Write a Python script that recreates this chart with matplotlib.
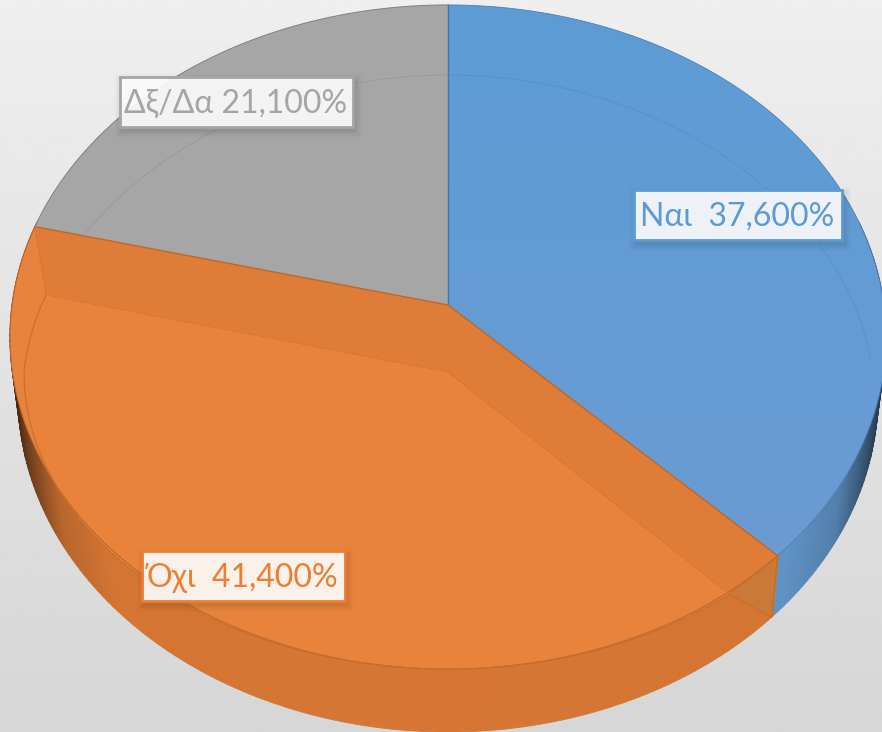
"""3D pie chart with the orange slice sunk into the disc."""

import matplotlib
matplotlib.use('Agg')
import matplotlib.pyplot as plt
from matplotlib.patches import Rectangle
import numpy as np

plt.rcParams['font.family'] = ['Lato', 'Noto Sans', 'DejaVu Sans']

# Data
labels = ['Ναι ', 'Όχι ', 'Δξ/Δα']
values = [37.6, 41.4, 21.1]
colors = ['#5b9bd5', '#ed7d31', '#a5a5a5']

W, H = 882, 732


def rim(theta):
    """Top rim of the disc, theta clockwise from 12 o'clock, with perspective."""
    t = np.radians(theta)
    d = 1 + 0.0964 * np.cos(t)
    return 448 + 436 * np.sin(t) / d, 305 - 329 * np.cos(t) / d


def base(theta):
    """Lower edge of the disc side."""
    t = np.radians(theta)
    d = 1 + 0.0964 * np.cos(t)
    return 448 + 428 * np.sin(t) / d, 363.5 - 333 * np.cos(t) / d


def ring(theta):
    """Inner floor ring of the disc, narrower towards the back."""
    t = np.radians(theta)
    c = np.cos(t)
    return 448 + 424 * np.sin(t) * (1 - 0.07 * np.maximum(c, 0)), 372 - 297 * c


def side_shade(theta):
    s = np.abs(np.sin(np.radians(theta)))
    return np.interp(s, [0, 0.72, 0.85, 0.93, 1], [0.91, 0.9, 0.78, 0.5, 0.28])


def arc(func, a, b, n=160):
    return func(np.linspace(a, b, n))


fig = plt.figure(figsize=(W / 100, H / 100), dpi=100)
ax = fig.add_axes([0, 0, 1, 1])
ax.set_xlim(0, W)
ax.set_ylim(H, 0)
ax.axis('off')

# Background gradient
grad = np.linspace(0.935, 0.84, 256).reshape(-1, 1)
ax.imshow(grad, extent=(0, W, H, 0), cmap='gray', vmin=0, vmax=1, aspect='auto', zorder=0)

total = sum(values)
edges = np.cumsum([0] + values) / total * 360
blue_a, blue_b = edges[0], edges[1]
or_a, or_b = edges[1], edges[2]
gray_a, gray_b = edges[2], edges[3]

# Side of the disc, drawn as thin strips so the shading can vary
side_angles = np.arange(75, 286, 1.0)
for a0, a1 in zip(side_angles[:-1], side_angles[1:]):
    mid = (a0 + a1) / 2
    rgb = np.array(matplotlib.colors.to_rgb('#6aa3dc' if mid < blue_b else '#ec8239'))
    c = tuple(rgb * side_shade(mid))
    x0, y0 = rim(a0)
    x1, y1 = rim(a1)
    x2, y2 = base(a1)
    x3, y3 = base(a0)
    ax.fill([x0, x1, x2, x3], [y0, y1, y2, y3], color=c, linewidth=0.6, zorder=1)

apex = rim(0)[0], 305
floor_apex = 448, 372
floor_a = or_a + 3.2  # floor corners sit slightly off the rim corners
floor_b = or_b + 0.9

# Top faces
xs, ys = arc(rim, gray_a, gray_b)
ax.fill(np.r_[apex[0], xs], np.r_[apex[1], ys], facecolor='#a6a6a6', edgecolor='none', zorder=2)
ax.plot(xs, ys, color='#808080', linewidth=0.7, zorder=2)

xs, ys = arc(rim, blue_a, blue_b)
blue_face = ax.fill(np.r_[apex[0], xs], np.r_[apex[1], ys], facecolor='none', edgecolor='none', zorder=2)[0]
blue_grad = np.linspace(0, 1, 64).reshape(-1, 1)
blue_cmap = matplotlib.colors.LinearSegmentedColormap.from_list('face', ['#5e9bd6', '#6a9bd2'])
blue_img = ax.imshow(blue_grad, extent=(448, W + 10, 560, 0), cmap=blue_cmap, aspect='auto', zorder=2)
blue_img.set_clip_path(blue_face)
ax.set_xlim(0, W)
ax.set_ylim(H, 0)
ax.plot(xs, ys, color='#4a7fb5', linewidth=0.6, zorder=2)
ax.plot([apex[0], apex[0]], [rim(0)[1], apex[1]], color='#3f77ad', linewidth=1.0, zorder=6)

# Orange slice: band, floor and the two inner walls
xs, ys = arc(rim, or_a, or_b)
ax.fill(np.r_[apex[0], xs], np.r_[apex[1], ys], facecolor='#e8833d', edgecolor='none', zorder=3)
ax.plot(xs, ys, color='#b9682c', linewidth=0.8, zorder=6)

fx, fy = arc(ring, floor_a, floor_b)
ax.fill(np.r_[floor_apex[0], fx], np.r_[floor_apex[1], fy], facecolor='#e9833c', edgecolor='none', zorder=4)
ax.plot(fx, fy, color='#c96d2b', linewidth=0.8, zorder=6)

r1, r2 = rim(or_a), rim(or_b)
b1 = base(or_a)
f1, f2 = ring(floor_a), ring(floor_b)
wall = '#df7d38'
ax.fill([apex[0], r1[0], f1[0], floor_apex[0]], [apex[1], r1[1], f1[1], floor_apex[1]],
        facecolor=wall, edgecolor='none', zorder=5)
ax.fill([apex[0], r2[0], f2[0], floor_apex[0]], [apex[1], r2[1], f2[1], floor_apex[1]],
        facecolor=wall, edgecolor='none', zorder=5)
ax.fill([r1[0], b1[0], f1[0]], [r1[1], b1[1], f1[1]], facecolor='#c97a38', edgecolor='none', zorder=5)

# Slice boundaries and wall creases
ax.plot([r2[0], apex[0], r1[0]], [r2[1], apex[1], r1[1]], color='#b9692d', linewidth=1.0, zorder=6)
ax.plot([r1[0], f1[0], b1[0]], [r1[1], f1[1], b1[1]], color='#c76c2a', linewidth=0.7, zorder=6)
ax.plot([r2[0], f2[0], floor_apex[0], f1[0]], [r2[1], f2[1], floor_apex[1], f1[1]],
        color='#d9772f', linewidth=0.7, zorder=6)
ax.plot([r1[0], b1[0]], [r1[1], b1[1]], color='#b86a2e', linewidth=0.7, zorder=6)

# Faint floor ring seen through the blue and grey faces
xs, ys = arc(ring, 0, 88)
ax.plot(xs, ys, color='#5288bf', linewidth=0.6, alpha=0.6, zorder=6)
xs, ys = arc(ring, gray_a + 14, gray_b)
ax.plot(xs, ys, color='#8f8f8f', linewidth=0.6, alpha=0.6, zorder=6)

# Data labels
boxes = [(634, 190, 208, 50), (142, 551, 203, 50), (120, 77, 233, 50)]
for name, val, col, (bx, by, bw, bh) in zip(labels, values, colors, boxes):
    for grow, alpha in [(7, 0.025), (5, 0.035), (3, 0.05), (1, 0.06)]:
        ax.add_patch(Rectangle((bx + 2 - grow, by + 4 - grow), bw + 2 * grow, bh + 2 * grow,
                               facecolor='#303030', alpha=alpha, edgecolor='none', zorder=7))
    ax.add_patch(Rectangle((bx, by), bw, bh, facecolor='white', alpha=0.9, edgecolor='none', zorder=8))
    ax.add_patch(Rectangle((bx, by), bw, bh, facecolor='none', edgecolor=col, linewidth=2.0, zorder=9))
    txt = f"{name} {val:.3f}%".replace('.', ',')
    ax.text(bx + bw / 2 - 0.5, by + bh / 2 + 2, txt, color=col, fontsize=23, ha='center', va='center', zorder=10)

fig.savefig('out.png', dpi=100)
plt.close(fig)
